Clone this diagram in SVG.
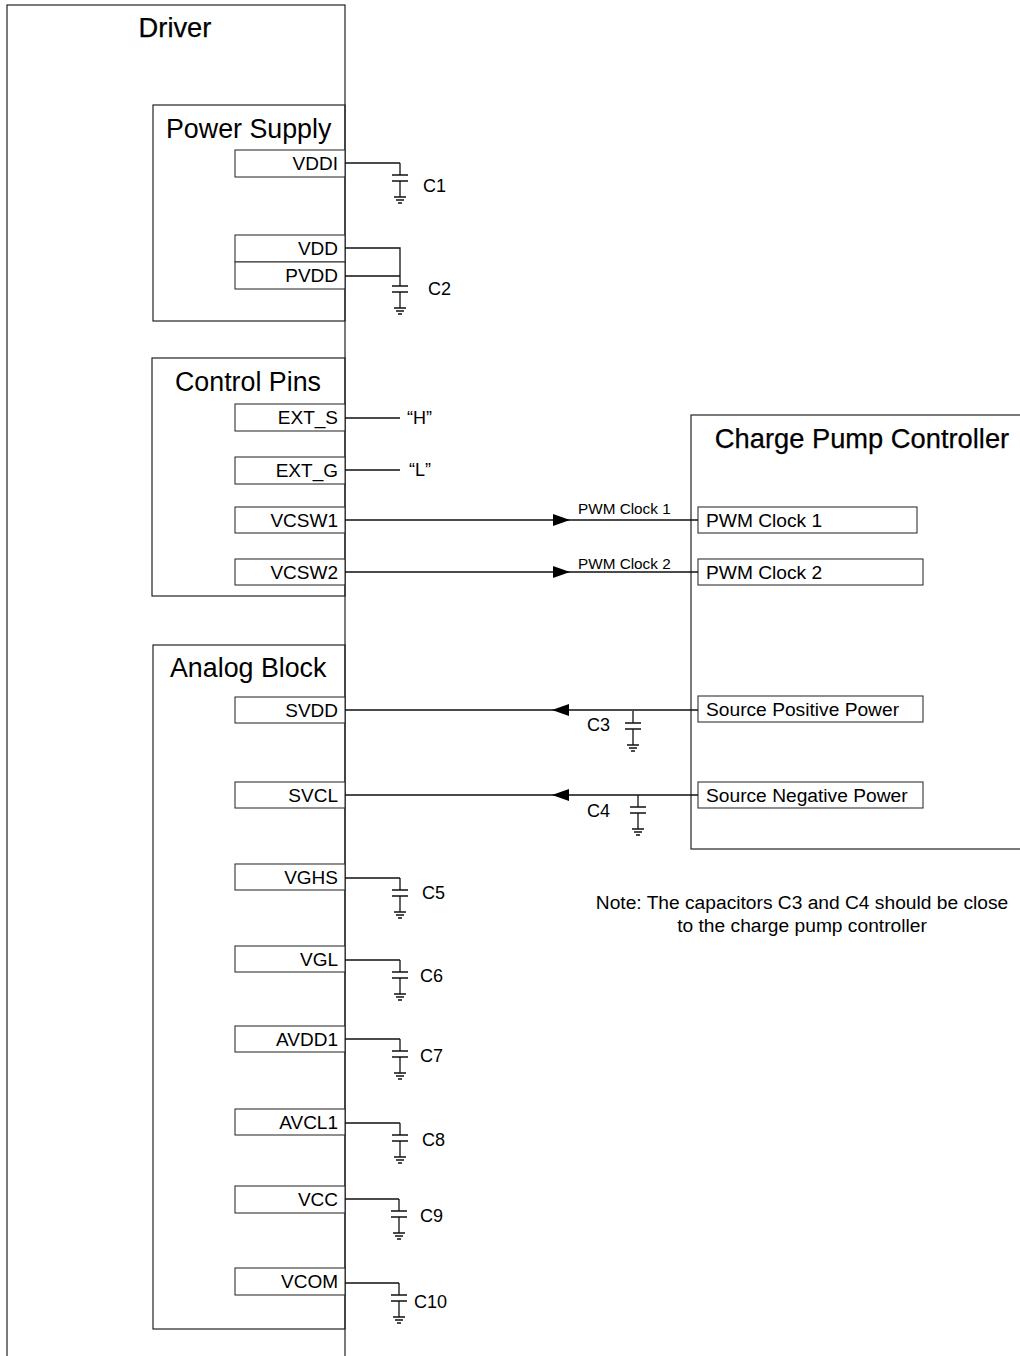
<svg xmlns="http://www.w3.org/2000/svg" width="1020" height="1356" viewBox="0 0 1020 1356">
<style>
  .box{fill:none;stroke:#222;stroke-width:1.2}
  .pin{fill:#fff;stroke:#333;stroke-width:1.1}
  .w{fill:none;stroke:#111;stroke-width:1.3}
  .t{font-family:"Liberation Sans",Arial,sans-serif;fill:#000}
  .title{font-size:27.3px;stroke:#000;stroke-width:0.25}
  .sec{font-size:26.8px}
  .pl{font-size:19px;text-anchor:end}
  .pr{font-size:19.2px}
  .cl{font-size:18px}
  .sm{font-size:15.3px}
  .note{font-size:19.2px;text-anchor:middle}
</style>
<defs>
  <g id="cap">
    <path class="w" d="M0 0V12M-8 12H8M-8 18H8M0 18V34M-6 34H6M-4 37H4M-2 40H2"/>
  </g>
  <path id="arrR" d="M-17 -6L0 0L-17 6Z" fill="#000"/>
  <path id="arrL" d="M17 -6L0 0L17 6Z" fill="#000"/>
</defs>
<rect width="1020" height="1356" fill="#fff"/>

<g id="driver">
  <rect class="box" x="7" y="5" width="338" height="1380"/>
  <text class="t title" x="175" y="37" text-anchor="middle">Driver</text>
</g>

<g id="power-supply">
  <rect class="box" x="153" y="105" width="192" height="216"/>
  <text class="t sec" x="166" y="138">Power Supply</text>
</g>
<g id="pin-vddi"><rect class="pin" x="235" y="150" width="110" height="27"/><text class="t pl" x="338" y="170">VDDI</text></g>
<g id="pin-vdd"><rect class="pin" x="235" y="235" width="110" height="27"/><text class="t pl" x="338" y="255">VDD</text></g>
<g id="pin-pvdd"><rect class="pin" x="235" y="262" width="110" height="27"/><text class="t pl" x="338" y="282">PVDD</text></g>

<g id="control-pins">
  <rect class="box" x="152" y="358" width="193" height="238"/>
  <text class="t sec" x="175" y="391">Control Pins</text>
</g>
<g id="pin-ext-s"><rect class="pin" x="235" y="404" width="110" height="27"/><text class="t pl" x="338" y="424">EXT_S</text></g>
<g id="pin-ext-g"><rect class="pin" x="235" y="457" width="110" height="27"/><text class="t pl" x="338" y="477">EXT_G</text></g>
<g id="pin-vcsw1"><rect class="pin" x="235" y="507" width="110" height="26"/><text class="t pl" x="338" y="527">VCSW1</text></g>
<g id="pin-vcsw2"><rect class="pin" x="235" y="559" width="110" height="26"/><text class="t pl" x="338" y="579">VCSW2</text></g>

<g id="analog-block">
  <rect class="box" x="153" y="645" width="192" height="684"/>
  <text class="t sec" x="170" y="677">Analog Block</text>
</g>
<g id="pin-svdd"><rect class="pin" x="235" y="697" width="110" height="26"/><text class="t pl" x="338" y="717">SVDD</text></g>
<g id="pin-svcl"><rect class="pin" x="235" y="782" width="110" height="26"/><text class="t pl" x="338" y="802">SVCL</text></g>
<g id="pin-vghs"><rect class="pin" x="235" y="864" width="110" height="26"/><text class="t pl" x="338" y="884">VGHS</text></g>
<g id="pin-vgl"><rect class="pin" x="235" y="946" width="110" height="26"/><text class="t pl" x="338" y="966">VGL</text></g>
<g id="pin-avdd1"><rect class="pin" x="235" y="1026" width="110" height="26"/><text class="t pl" x="338" y="1046">AVDD1</text></g>
<g id="pin-avcl1"><rect class="pin" x="235" y="1109" width="110" height="26"/><text class="t pl" x="338" y="1129">AVCL1</text></g>
<g id="pin-vcc"><rect class="pin" x="235" y="1186" width="110" height="27"/><text class="t pl" x="338" y="1206">VCC</text></g>
<g id="pin-vcom"><rect class="pin" x="235" y="1268" width="110" height="27"/><text class="t pl" x="338" y="1288">VCOM</text></g>

<g id="charge-pump-controller">
  <rect class="box" x="691" y="415" width="340" height="434"/>
  <text class="t title" x="862" y="448" text-anchor="middle">Charge Pump Controller</text>
</g>
<g id="pin-pwm1"><rect class="pin" x="698" y="507" width="219" height="26"/><text class="t pr" x="706" y="527">PWM Clock 1</text></g>
<g id="pin-pwm2"><rect class="pin" x="698" y="559" width="225" height="26"/><text class="t pr" x="706" y="579">PWM Clock 2</text></g>
<g id="pin-spp"><rect class="pin" x="698" y="696" width="225" height="26"/><text class="t pr" x="706" y="716">Source Positive Power</text></g>
<g id="pin-snp"><rect class="pin" x="698" y="782" width="225" height="26"/><text class="t pr" x="706" y="802">Source Negative Power</text></g>

<g id="connectors">
  <path class="w" d="M345 163H400"/>
  <use href="#cap" x="400" y="163"/>
  <path class="w" d="M345 248H400V274M345 276H400"/>
  <use href="#cap" x="400" y="274"/>
  <path class="w" d="M345 418H400M345 470H400"/>
  <path class="w" d="M345 520H698M345 572H698"/>
  <use href="#arrR" x="570" y="520"/>
  <use href="#arrR" x="570" y="572"/>
  <path class="w" d="M345 710H698M345 795H698"/>
  <use href="#arrL" x="552" y="710"/>
  <use href="#arrL" x="552" y="795"/>
  <use href="#cap" x="633" y="711"/>
  <use href="#cap" x="638" y="795"/>
  <path class="w" d="M345 878H400M345 960H400M345 1039H400M345 1123H400M345 1199H399M345 1283H399"/>
  <use href="#cap" x="400" y="878"/>
  <use href="#cap" x="400" y="960"/>
  <use href="#cap" x="400" y="1039"/>
  <use href="#cap" x="400" y="1123"/>
  <use href="#cap" x="399" y="1199"/>
  <use href="#cap" x="399" y="1283"/>
</g>

<g id="labels">
  <text class="t cl" x="423" y="192">C1</text>
  <text class="t cl" x="428" y="295">C2</text>
  <text class="t cl" x="407" y="424">“H”</text>
  <text class="t cl" x="409" y="476">“L”</text>
  <text class="t sm" x="578" y="514">PWM Clock 1</text>
  <text class="t sm" x="578" y="569">PWM Clock 2</text>
  <text class="t cl" x="587" y="731">C3</text>
  <text class="t cl" x="587" y="817">C4</text>
  <text class="t cl" x="422" y="899">C5</text>
  <text class="t cl" x="420" y="982">C6</text>
  <text class="t cl" x="420" y="1062">C7</text>
  <text class="t cl" x="422" y="1146">C8</text>
  <text class="t cl" x="420" y="1222">C9</text>
  <text class="t cl" x="414" y="1308">C10</text>
  <text class="t note" x="802" y="909">Note: The capacitors C3 and C4 should be close</text>
  <text class="t note" x="802" y="932">to the charge pump controller</text>
</g>
</svg>
